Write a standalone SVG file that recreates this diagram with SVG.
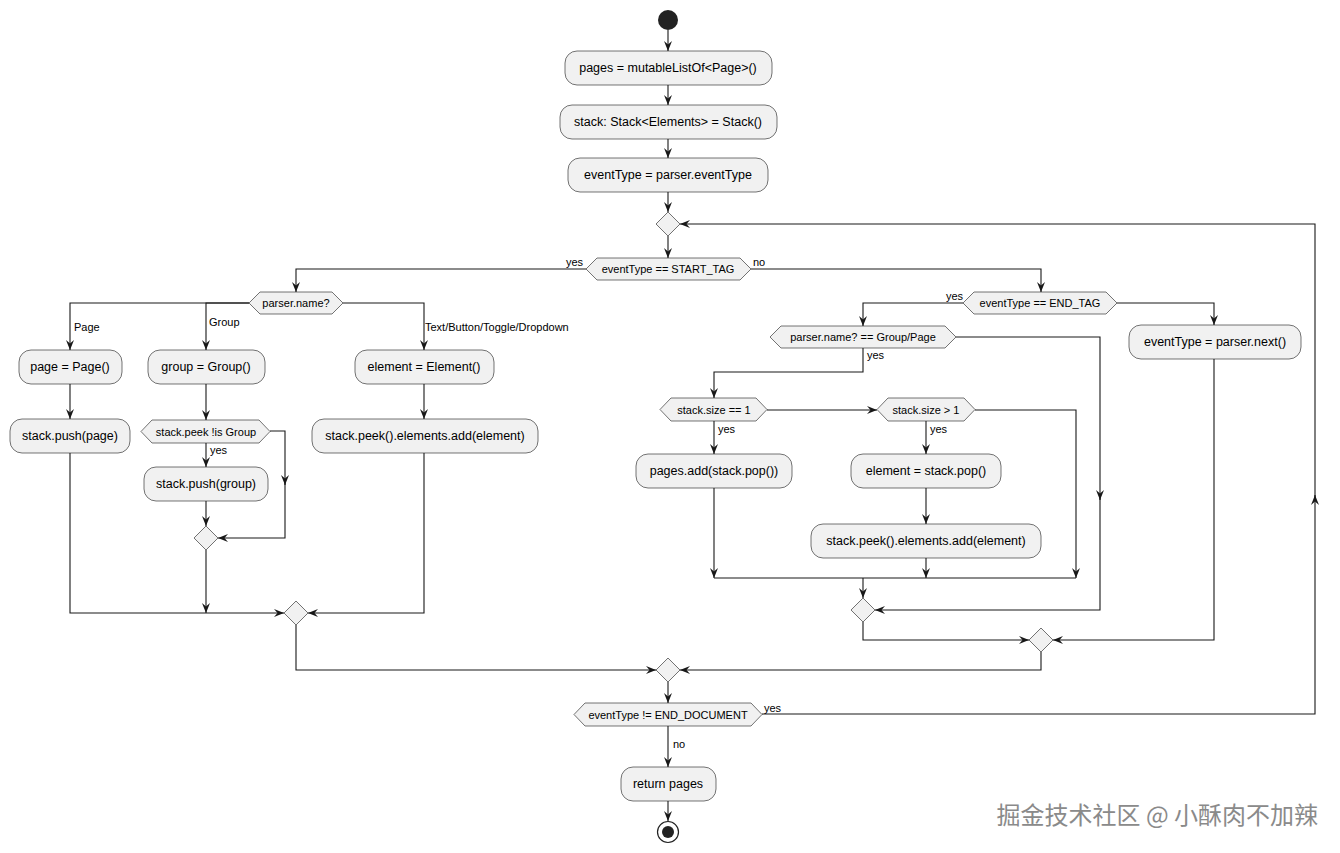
<svg xmlns="http://www.w3.org/2000/svg" width="1340" height="853" viewBox="0 0 1340 853">
<style>
.b{fill:#f1f1f1;stroke:#181818;stroke-width:0.6}
.t{font-family:"Liberation Sans",Arial,sans-serif;font-size:12.5px;fill:#000;text-anchor:middle}
.s{font-family:"Liberation Sans",Arial,sans-serif;font-size:11px;fill:#000}
.c path{fill:none;stroke:#181818;stroke-width:1.1}
</style>
<defs>
<marker id="a" viewBox="0 0 10 8" refX="10" refY="4" markerWidth="10" markerHeight="8" markerUnits="userSpaceOnUse" orient="auto">
<path d="M0,0 L10,4 L0,8 L3.5,4 z" fill="#181818"/>
</marker>
</defs>
<rect width="1340" height="853" fill="#fff"/>
<g class="c">
<path d="M668,30 V51" marker-end="url(#a)"/>
<path d="M668,85 V105" marker-end="url(#a)"/>
<path d="M668,139 V158" marker-end="url(#a)"/>
<path d="M668,192 V212" marker-end="url(#a)"/>
<path d="M668,236 V258" marker-end="url(#a)"/>
<path d="M586,269 H296 V292" marker-end="url(#a)"/>
<path d="M249,303 H70 V350" marker-end="url(#a)"/>
<path d="M249,303 H206 V350" marker-end="url(#a)"/>
<path d="M343,303 H424 V350" marker-end="url(#a)"/>
<path d="M70,384 V419" marker-end="url(#a)"/>
<path d="M206,384 V420" marker-end="url(#a)"/>
<path d="M424,384 V419" marker-end="url(#a)"/>
<path d="M206,443 V467" marker-end="url(#a)"/>
<path d="M270,431 H285 V485" marker-end="url(#a)"/>
<path d="M285,480 V538 H218" marker-end="url(#a)"/>
<path d="M206,501 V526" marker-end="url(#a)"/>
<path d="M206,550 V613" marker-end="url(#a)"/>
<path d="M70,453 V613 H284" marker-end="url(#a)"/>
<path d="M424,453 V613 H308" marker-end="url(#a)"/>
<path d="M296,625 V670 H656" marker-end="url(#a)"/>
<path d="M751,269 H1041 V292" marker-end="url(#a)"/>
<path d="M963,303 H863 V326" marker-end="url(#a)"/>
<path d="M1117,303 H1214 V325" marker-end="url(#a)"/>
<path d="M956,337 H1100 V500" marker-end="url(#a)"/>
<path d="M1100,495 V610 H875" marker-end="url(#a)"/>
<path d="M863,348 V372 H714 V398" marker-end="url(#a)"/>
<path d="M767,410 H877" marker-end="url(#a)"/>
<path d="M714,421 V454" marker-end="url(#a)"/>
<path d="M926,421 V454" marker-end="url(#a)"/>
<path d="M926,488 V524" marker-end="url(#a)"/>
<path d="M975,410 H1076 V578" marker-end="url(#a)"/>
<path d="M714,488 V578" marker-end="url(#a)"/>
<path d="M926,558 V578" marker-end="url(#a)"/>
<path d="M714,578 H1076"/>
<path d="M863,578 V598" marker-end="url(#a)"/>
<path d="M863,622 V640 H1029" marker-end="url(#a)"/>
<path d="M1214,359 V640 H1053" marker-end="url(#a)"/>
<path d="M1041,652 V670 H680" marker-end="url(#a)"/>
<path d="M668,682 V703" marker-end="url(#a)"/>
<path d="M762,714 H1315 V495" marker-end="url(#a)"/>
<path d="M1315,500 V224 H680" marker-end="url(#a)"/>
<path d="M668,726 V767" marker-end="url(#a)"/>
<path d="M668,801 V821" marker-end="url(#a)"/>
</g>
<g id="start"><circle cx="668" cy="20" r="10" fill="#222"/></g>
<g id="n1"><rect class="b" x="565" y="51" width="207" height="34" rx="12"/><text class="t" x="668" y="72">pages = mutableListOf&lt;Page&gt;()</text></g>
<g id="n2"><rect class="b" x="560" y="105" width="217" height="34" rx="12"/><text class="t" x="668" y="126">stack: Stack&lt;Elements&gt; = Stack()</text></g>
<g id="n3"><rect class="b" x="568" y="158" width="200" height="34" rx="12"/><text class="t" x="668" y="179">eventType = parser.eventType</text></g>
<g id="m1"><path class="b" d="M668,212 L680,224 L668,236 L656,224 z"/></g>
<g id="d1"><path class="b" d="M597,258 H740 L751,269 L740,280 H597 L586,269 z"/><text class="s" x="668" y="273" text-anchor="middle">eventType == START_TAG</text><text class="s" x="566" y="266">yes</text><text class="s" x="753" y="266">no</text></g>
<g id="d2"><path class="b" d="M260,292 H332 L343,303 L332,314 H260 L249,303 z"/><text class="s" x="296" y="307" text-anchor="middle">parser.name?</text><text class="s" x="74" y="331">Page</text><text class="s" x="209" y="326">Group</text><text class="s" x="425" y="331">Text/Button/Toggle/Dropdown</text></g>
<g id="n4"><rect class="b" x="19" y="350" width="103" height="34" rx="12"/><text class="t" x="70" y="371">page = Page()</text></g>
<g id="n5"><rect class="b" x="148" y="350" width="117" height="34" rx="12"/><text class="t" x="206" y="371">group = Group()</text></g>
<g id="n6"><rect class="b" x="355" y="350" width="139" height="34" rx="12"/><text class="t" x="424" y="371">element = Element()</text></g>
<g id="n7"><rect class="b" x="10" y="419" width="120" height="34" rx="12"/><text class="t" x="70" y="440">stack.push(page)</text></g>
<g id="d3"><path class="b" d="M152,420 H259 L270,431.5 L259,443 H152 L141,431.5 z"/><text class="s" x="206" y="436" text-anchor="middle">stack.peek !is Group</text><text class="s" x="210" y="454">yes</text></g>
<g id="n8"><rect class="b" x="312" y="419" width="226" height="34" rx="12"/><text class="t" x="425" y="440">stack.peek().elements.add(element)</text></g>
<g id="n9"><rect class="b" x="144" y="467" width="124" height="34" rx="12"/><text class="t" x="206" y="488">stack.push(group)</text></g>
<g id="m2"><path class="b" d="M206,526 L218,538 L206,550 L194,538 z"/></g>
<g id="m3"><path class="b" d="M296,601 L308,613 L296,625 L284,613 z"/></g>
<g id="d4"><path class="b" d="M974,292 H1106 L1117,303 L1106,314 H974 L963,303 z"/><text class="s" x="1040" y="307" text-anchor="middle">eventType == END_TAG</text><text class="s" x="946" y="300">yes</text></g>
<g id="n10"><rect class="b" x="1129" y="325" width="172" height="34" rx="12"/><text class="t" x="1215" y="346">eventType = parser.next()</text></g>
<g id="d5"><path class="b" d="M781,326 H945 L956,337 L945,348 H781 L770,337 z"/><text class="s" x="863" y="341" text-anchor="middle">parser.name? == Group/Page</text><text class="s" x="867" y="359">yes</text></g>
<g id="d6"><path class="b" d="M671,398 H756 L767,409.5 L756,421 H671 L660,409.5 z"/><text class="s" x="714" y="414" text-anchor="middle">stack.size == 1</text><text class="s" x="718" y="433">yes</text></g>
<g id="d7"><path class="b" d="M888,398 H964 L975,409.5 L964,421 H888 L877,409.5 z"/><text class="s" x="926" y="414" text-anchor="middle">stack.size &gt; 1</text><text class="s" x="930" y="433">yes</text></g>
<g id="n11"><rect class="b" x="636" y="454" width="156" height="34" rx="12"/><text class="t" x="714" y="475">pages.add(stack.pop())</text></g>
<g id="n12"><rect class="b" x="851" y="454" width="150" height="34" rx="12"/><text class="t" x="926" y="475">element = stack.pop()</text></g>
<g id="n13"><rect class="b" x="811" y="524" width="230" height="34" rx="12"/><text class="t" x="926" y="545">stack.peek().elements.add(element)</text></g>
<g id="m4"><path class="b" d="M863,598 L875,610 L863,622 L851,610 z"/></g>
<g id="m5"><path class="b" d="M1041,628 L1053,640 L1041,652 L1029,640 z"/></g>
<g id="m6"><path class="b" d="M668,658 L680,670 L668,682 L656,670 z"/></g>
<g id="d8"><path class="b" d="M585,703 H751 L762,714.5 L751,726 H585 L574,714.5 z"/><text class="s" x="668" y="719" text-anchor="middle">eventType != END_DOCUMENT</text><text class="s" x="764" y="712">yes</text><text class="s" x="673" y="748">no</text></g>
<g id="n14"><rect class="b" x="621" y="767" width="95" height="34" rx="12"/><text class="t" x="668" y="788">return pages</text></g>
<g id="end"><circle cx="668" cy="832" r="10.5" fill="#fff" stroke="#222" stroke-width="1.2"/><circle cx="668" cy="832" r="6" fill="#222"/></g>
<text x="1318" y="824" text-anchor="end" font-family="'Noto Sans CJK SC',sans-serif" font-size="24" fill="#8a8a8a">掘金技术社区 @ 小酥肉不加辣</text>
</svg>
